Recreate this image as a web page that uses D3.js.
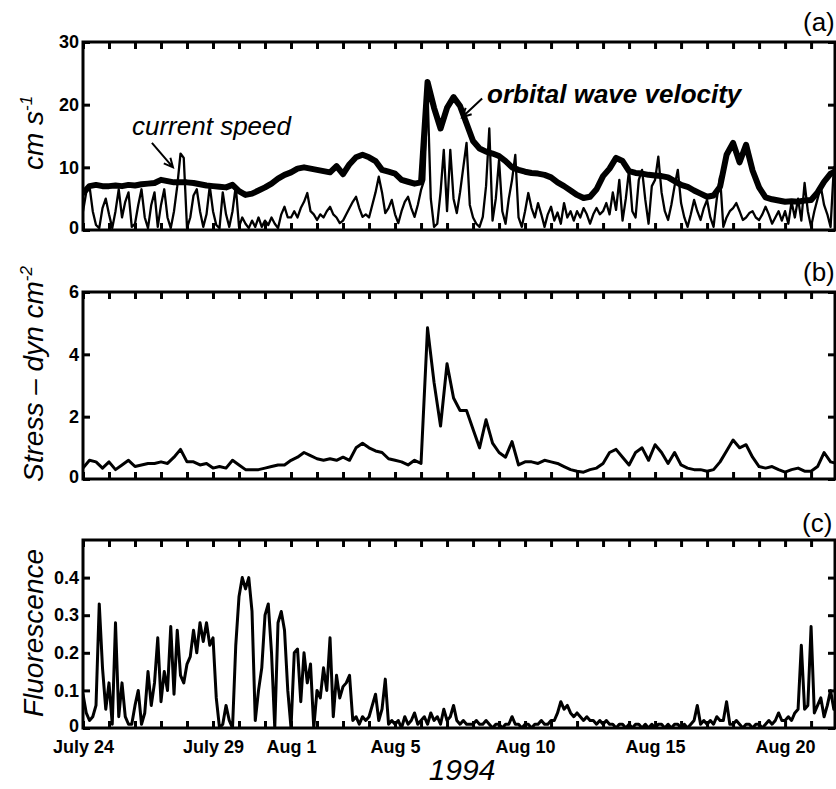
<!DOCTYPE html>
<html>
<head>
<meta charset="utf-8">
<script src="https://cdn.jsdelivr.net/npm/d3@7"></script>
<style>
  body { margin: 0; background: #fff; }
  svg { display: block; font-family: "Liberation Sans", Arial, Helvetica, sans-serif; }
  .tick line { stroke: #000; stroke-width: 3; }
  .tick text { font-size: 18px; font-weight: bold; fill: #000; }
</style>
</head>
<body>
<div id="chart"></div>
<script>
// time axis: days since July 24 1994
var dayMs = 86400000;
var start = Date.UTC(1994, 6, 24);
var spanDays = 28.92;

var dateLabelDays = [0, 5, 8, 12, 17, 22, 27];
var dateLabelText = ["July 24", "July 29", "Aug 1", "Aug 5", "Aug 10", "Aug 15", "Aug 20"];

// (a) orbital wave velocity, cm/s, every 6 h
var waveStep = 0.25;
var waveSpeed = [
  5.9, 7.0, 7.2, 7.0,  7.0, 7.1, 7.0, 7.2,  7.1, 7.3, 7.4, 7.5,  8.0, 7.8, 7.6, 7.6,
  7.6, 7.5, 7.3, 7.1,  7.0, 6.9, 6.8, 7.2,  6.2, 5.6, 5.8, 6.3,  6.8, 7.4, 8.2, 8.8,
  9.2, 9.8, 10.0, 9.8, 9.6, 9.4, 9.2, 10.2, 8.9, 10.5, 11.6, 12.0, 11.6, 11.0, 9.6, 9.3,
  9.0, 8.0, 7.7, 7.4,  7.6, 23.6, 19.5, 16.2, 19.5, 21.2, 19.8, 17.0, 14.2, 13.0, 12.5, 12.2,
  11.8, 11.0, 10.0, 9.6, 9.3, 9.1, 9.0, 8.8, 8.4, 7.6, 7.0, 6.3,  5.6, 5.1, 5.3, 6.5,
  8.6, 9.8, 11.5, 11.0, 9.4, 9.1, 9.0, 8.8, 8.7, 8.6, 8.4, 7.8,  7.2, 6.9, 6.3, 5.8,
  5.3, 5.5, 6.9, 12.0, 13.9, 10.8, 13.6, 9.5, 6.8, 5.2, 4.9, 4.7, 4.5, 4.6, 4.5, 4.7,
  4.8, 6.0, 7.7, 9.0,  9.5
];

// (a) current speed, cm/s, every 3 h
var currentStep = 0.125;
var currentSpeed = [
  3.0, 6.0, 7.0, 3.0, 0.8, 0.3, 3.5, 5.0,
  2.5, 0.3, 3.0, 6.5, 2.0, 4.5, 6.0, 0.5,
  1.0, 4.0, 6.5, 2.0, 0.3, 4.0, 6.0, 0.5,
  4.0, 6.5, 2.0, 0.3, 3.0, 7.0, 12.2, 11.5,
  0.3, 2.0, 5.5, 6.5, 3.0, 0.5, 2.5, 7.0,
  3.0, 0.8, 0.3, 6.0, 2.5, 0.5, 3.0, 7.0,
  0.5, 2.0, 1.0, 0.3, 1.5, 0.5, 2.0, 0.5,
  1.5, 0.8, 2.0, 1.0, 0.3, 2.5, 3.7, 2.0,
  2.0, 3.0, 2.0, 3.5, 4.5, 5.9, 3.0, 2.5,
  1.6, 2.5, 2.0, 3.0, 3.7, 2.5, 2.0, 1.1,
  1.5, 2.5, 3.5, 4.5, 5.3, 3.5, 2.1, 2.5,
  2.0, 4.0, 6.0, 8.5, 6.0, 2.7, 3.5, 4.8,
  2.5, 1.1, 3.0, 4.5, 5.3, 3.5, 2.1, 4.0,
  6.4, 8.0, 22.0, 5.0, 0.5, 1.0, 6.0, 12.8,
  3.0, 12.8, 5.0, 2.7, 6.0, 10.0, 13.9, 4.0,
  2.0, 1.0, 0.5, 2.1, 7.0, 16.2, 1.5, 5.0,
  11.2, 3.0, 1.0, 5.0, 8.0, 12.0, 2.0, 0.5,
  3.0, 5.9, 3.5, 2.0, 4.3, 2.5, 0.5, 2.5,
  3.7, 1.5, 2.8, 1.0, 4.3, 2.0, 3.0, 1.5,
  3.0, 2.0, 3.5, 2.5, 1.0, 2.5, 3.5, 2.5,
  3.0, 4.3, 2.5, 6.0, 3.2, 8.0, 1.5, 5.0,
  9.6, 3.0, 2.0, 8.0, 9.6, 4.8, 1.0, 7.0,
  8.0, 11.7, 6.0, 3.0, 1.6, 4.0, 7.0, 9.6,
  4.3, 2.0, 0.5, 2.5, 4.8, 3.0, 1.6, 3.5,
  4.8, 2.0, 0.5, 5.0, 8.5, 0.5, 2.0, 3.0,
  3.5, 4.3, 3.0, 1.6, 2.0, 2.7, 3.0, 2.0,
  1.6, 2.5, 3.7, 2.5, 1.0, 2.0, 3.0, 1.5,
  3.0, 1.0, 4.5, 2.0, 5.0, 1.5, 7.5, 3.0,
  0.5, 3.0, 5.0, 6.9, 4.0, 2.5, 0.5, 10.0
];

// (b) bottom stress, dyn/cm2, every 6 h
var stressStep = 0.25;
var stress = [
  0.35, 0.6, 0.55, 0.35,  0.55, 0.3, 0.45, 0.6,  0.4, 0.45, 0.5, 0.5,  0.55, 0.5, 0.7, 0.95,
  0.55, 0.55, 0.45, 0.5,  0.35, 0.4, 0.35, 0.6,  0.45, 0.3, 0.3, 0.3,  0.35, 0.4, 0.45, 0.45,
  0.6, 0.7, 0.85, 0.75,   0.65, 0.6, 0.65, 0.6,  0.7, 0.6, 1.0, 1.15,  1.0, 0.9, 0.85, 0.65,
  0.6, 0.55, 0.45, 0.6,   0.5, 4.85, 3.1, 1.7,   3.7, 2.6, 2.2, 2.2,   1.6, 1.0, 1.9, 1.15,
  0.85, 0.7, 1.2, 0.45,   0.55, 0.55, 0.5, 0.6,  0.55, 0.5, 0.4, 0.3,  0.25, 0.22, 0.3, 0.35,
  0.5, 0.85, 0.95, 0.7,   0.45, 0.85, 1.0, 0.6,  1.1, 0.85, 0.5, 0.85, 0.45, 0.35, 0.3, 0.3,
  0.25, 0.3, 0.55, 0.9,   1.25, 1.0, 1.1, 0.7,   0.4, 0.35, 0.4, 0.3,  0.22, 0.3, 0.35, 0.25,
  0.25, 0.4, 0.85, 0.55,  0.5
];

// (c) fluorescence, every 3 h
var fluorStep = 0.125;
var fluorescence = [
  0.09, 0.04, 0.02, 0.03, 0.06, 0.33, 0.16, 0.05,
  0.12, 0.01, 0.28, 0.03, 0.12, 0.03, 0.01, 0.01,
  0.06, 0.10, 0.01, 0.04, 0.15, 0.06, 0.12, 0.24,
  0.07, 0.15, 0.10, 0.27, 0.09, 0.26, 0.14, 0.12,
  0.17, 0.19, 0.26, 0.20, 0.28, 0.23, 0.28, 0.22,
  0.24, 0.08, 0.00, 0.01, 0.06, 0.02, 0.00, 0.22,
  0.35, 0.40, 0.37, 0.40, 0.31, 0.02, 0.10, 0.16,
  0.30, 0.33, 0.20, 0.00, 0.28, 0.31, 0.26, 0.10,
  0.00, 0.20, 0.21, 0.07, 0.20, 0.12, 0.17, 0.00,
  0.10, 0.08, 0.16, 0.10, 0.24, 0.03, 0.14, 0.08,
  0.11, 0.12, 0.14, 0.02, 0.03, 0.01, 0.03, 0.02,
  0.03, 0.06, 0.09, 0.02, 0.05, 0.13, 0.01, 0.02,
  0.01, 0.02, 0.00, 0.03, 0.01, 0.02, 0.04, 0.01,
  0.02, 0.03, 0.01, 0.04, 0.02, 0.03, 0.01, 0.05,
  0.02, 0.03, 0.06, 0.02, 0.01, 0.02, 0.01, 0.01,
  0.01, 0.02, 0.01, 0.01, 0.02, 0.01, 0.00, 0.01,
  0.01, 0.00, 0.01, 0.01, 0.03, 0.01, 0.01, 0.00,
  0.01, 0.01, 0.00, 0.01, 0.01, 0.02, 0.01, 0.01,
  0.02, 0.02, 0.04, 0.07, 0.05, 0.06, 0.04, 0.03,
  0.04, 0.03, 0.02, 0.03, 0.02, 0.02, 0.01, 0.02,
  0.01, 0.02, 0.01, 0.01, 0.00, 0.01, 0.01, 0.00,
  0.01, 0.00, 0.01, 0.01, 0.00, 0.01, 0.00, 0.01,
  0.00, 0.01, 0.01, 0.00, 0.01, 0.00, 0.01, 0.01,
  0.00, 0.01, 0.00, 0.01, 0.02, 0.06, 0.01, 0.02,
  0.01, 0.02, 0.01, 0.03, 0.02, 0.02, 0.07, 0.01,
  0.01, 0.02, 0.01, 0.00, 0.01, 0.01, 0.00, 0.01,
  0.01, 0.00, 0.01, 0.02, 0.01, 0.02, 0.04, 0.02,
  0.02, 0.03, 0.02, 0.04, 0.05, 0.22, 0.05, 0.06,
  0.27, 0.04, 0.06, 0.08, 0.03, 0.06, 0.10, 0.05
];

var speedTicks = [0, 10, 20, 30];
var stressTicks = [0, 2, 4, 6];
var fluorTicks = [0, 0.1, 0.2, 0.3, 0.4];

var W = 836, H = 789;
var left = 83, right = 835;

var svg = d3.select("#chart").append("svg")
  .attr("width", W)
  .attr("height", H);

var x = d3.scaleUtc()
  .domain([new Date(start), new Date(start + spanDays * dayMs)])
  .range([left, right]);

var allDays = d3.utcDay.range(new Date(start), new Date(start + spanDays * dayMs));

function toSeries(vals, step) {
  return vals.map(function (v, i) {
    return { t: new Date(start + i * step * dayMs), v: v };
  });
}

function dateLabel(d) {
  var k = Math.round((d - start) / dayMs);
  var i = dateLabelDays.indexOf(k);
  return i < 0 ? "" : dateLabelText[i];
}

function panel(id, top, bottom, domain, ticks, fmt, showDates) {
  var y = d3.scaleLinear().domain(domain).range([bottom, top]);
  var g = svg.append("g");

  svg.append("clipPath").attr("id", "clip-" + id)
    .append("rect")
    .attr("x", left).attr("y", top)
    .attr("width", right - left).attr("height", bottom - top);

  var plot = g.append("g").attr("clip-path", "url(#clip-" + id + ")");

  g.append("g")
    .attr("transform", "translate(0," + bottom + ")")
    .call(d3.axisBottom(x).tickValues(allDays).tickSizeInner(-7).tickSizeOuter(0)
      .tickPadding(12).tickFormat(showDates ? dateLabel : function () { return ""; }))
    .call(function (a) { a.select(".domain").remove(); });

  g.append("g")
    .attr("transform", "translate(0," + top + ")")
    .call(d3.axisTop(x).tickValues(allDays).tickSizeInner(-7).tickSizeOuter(0).tickFormat(""))
    .call(function (a) { a.select(".domain").remove(); });

  var yAx = g.append("g")
    .attr("transform", "translate(" + left + ",0)")
    .call(d3.axisLeft(y).tickValues(ticks).tickSizeInner(-7).tickSizeOuter(0)
      .tickPadding(4).tickFormat(fmt))
    .call(function (a) { a.select(".domain").remove(); });
  // nudge the bottom "0" up a little so it clears the date labels
  yAx.selectAll(".tick text").filter(function (d) { return d === 0; }).attr("y", -2);

  g.append("g")
    .attr("transform", "translate(" + right + ",0)")
    .call(d3.axisRight(y).tickValues(ticks).tickSizeInner(-7).tickSizeOuter(0).tickFormat(""))
    .call(function (a) { a.select(".domain").remove(); });

  g.append("rect")
    .attr("x", left).attr("y", top)
    .attr("width", right - left).attr("height", bottom - top)
    .attr("fill", "none")
    .attr("stroke", "#000")
    .attr("stroke-width", 3);

  return { y: y, plot: plot };
}

function drawLine(p, data, width) {
  var line = d3.line()
    .x(function (d) { return x(d.t); })
    .y(function (d) { return p.y(d.v); });
  p.plot.append("path")
    .datum(data)
    .attr("d", line)
    .attr("fill", "none")
    .attr("stroke", "#000")
    .attr("stroke-width", width)
    .attr("stroke-linejoin", "round")
    .attr("stroke-linecap", "round");
}

function arrow(p, d0, v0, d1, v1) {
  var x0 = x(new Date(start + d0 * dayMs)), y0 = p.y(v0);
  var x1 = x(new Date(start + d1 * dayMs)), y1 = p.y(v1);
  var ang = Math.atan2(y1 - y0, x1 - x0), L = 10, a = 0.45;
  var path = "M" + x0 + "," + y0 + "L" + x1 + "," + y1 +
    "M" + (x1 - L * Math.cos(ang - a)) + "," + (y1 - L * Math.sin(ang - a)) +
    "L" + x1 + "," + y1 +
    "L" + (x1 - L * Math.cos(ang + a)) + "," + (y1 - L * Math.sin(ang + a));
  svg.append("path").attr("d", path)
    .attr("fill", "none").attr("stroke", "#000").attr("stroke-width", 2);
}

function yTitle(cx, cy, main, sup) {
  var t = svg.append("text")
    .attr("transform", "translate(" + cx + "," + cy + ") rotate(-90)")
    .attr("text-anchor", "middle")
    .attr("font-size", 28)
    .attr("font-style", "italic")
    .text(main);
  if (sup) {
    t.append("tspan").attr("dy", -11).attr("font-size", 17).text(sup);
  }
}

function panelTag(xp, yp, s) {
  svg.append("text").attr("x", xp).attr("y", yp)
    .attr("font-size", 26).text(s);
}

// panel (a)
var pa = panel("a", 42, 230, [0, 30], speedTicks, d3.format("d"), false);
drawLine(pa, toSeries(currentSpeed, currentStep), 2.3);
drawLine(pa, toSeries(waveSpeed, waveStep), 6);

svg.append("text").attr("x", 132).attr("y", 135)
  .attr("font-size", 26).attr("font-style", "italic")
  .text("current speed");
svg.append("text").attr("x", 487).attr("y", 103)
  .attr("font-size", 26).attr("font-style", "italic").attr("font-weight", "bold")
  .text("orbital wave velocity");
arrow(pa, 2.65, 13.9, 3.46, 10.0);
arrow(pa, 15.35, 21.0, 14.58, 18.0);

// panel (b)
var pb = panel("b", 292, 479, [0, 6], stressTicks, d3.format("d"), false);
drawLine(pb, toSeries(stress, stressStep), 3);

// panel (c)
var pc = panel("c", 540, 728, [0, 0.5], fluorTicks,
  function (d) { return d === 0 ? "0" : d.toFixed(1); }, true);
drawLine(pc, toSeries(fluorescence, fluorStep), 3);

yTitle(43, 133, "cm s", "-1");
yTitle(43, 374, "Stress \u2013 dyn cm", "-2");
yTitle(43, 633, "Fluorescence", null);

panelTag(803, 31, "(a)");
panelTag(803, 281, "(b)");
panelTag(802, 532, "(c)");

svg.append("text").attr("x", 462).attr("y", 780)
  .attr("text-anchor", "middle")
  .attr("font-size", 30).attr("font-style", "italic")
  .text("1994");
</script>
</body>
</html>
